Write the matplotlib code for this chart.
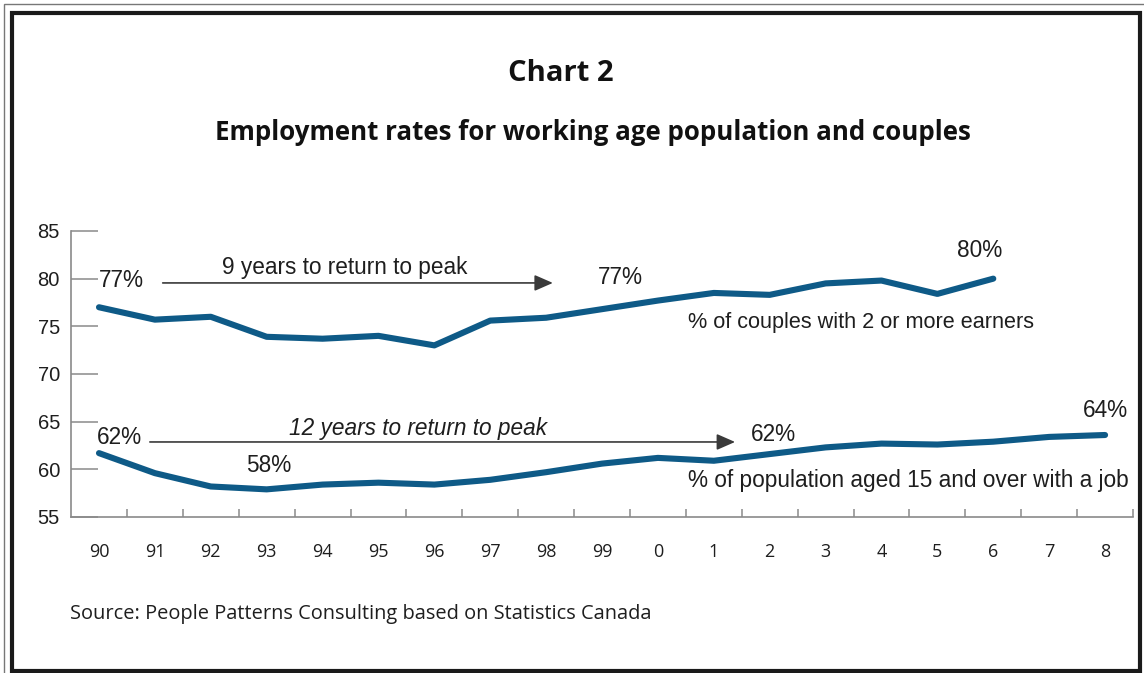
import numpy as np
import matplotlib
matplotlib.use("Agg")
import matplotlib.pyplot as plt
from matplotlib.patches import Rectangle

# --- data ---
years = ["90", "91", "92", "93", "94", "95", "96", "97", "98", "99",
         "0", "1", "2", "3", "4", "5", "6", "7", "8"]
couples_2earners = [77.0, 75.7, 76.0, 73.9, 73.7, 74.0, 73.0, 75.6, 75.9, 76.8,
                    77.7, 78.5, 78.3, 79.5, 79.8, 78.4, 80.0]
pop_employed = [61.7, 59.6, 58.2, 57.9, 58.4, 58.6, 58.4, 58.9, 59.7, 60.6,
                61.2, 60.9, 61.6, 62.3, 62.7, 62.6, 62.9, 63.4, 63.6]
y_ticks = [55, 60, 65, 70, 75, 80, 85]

LINE = "#0e5a87"
TXT = "#1e1e1e"
AXC = "#8a8a8a"
SANS = "Liberation Sans"
HUM = "Open Sans"

fig = plt.figure(figsize=(11.44, 6.73), dpi=100)
ax = fig.add_axes([0.0621, 0.2318, 0.9283, 0.425])

x = np.arange(len(years))
ax.plot(x[:len(couples_2earners)], couples_2earners, color=LINE, lw=4.4,
        solid_capstyle="round", solid_joinstyle="round")
ax.plot(x, pop_employed, color=LINE, lw=4.4,
        solid_capstyle="round", solid_joinstyle="round")

ax.set_xlim(-0.5, len(years) - 0.5)
ax.set_ylim(55, 85)

# axes styling: only left and bottom spines, ticks pointing inward
for s in ("top", "right"):
    ax.spines[s].set_visible(False)
for s in ("left", "bottom"):
    ax.spines[s].set_color(AXC)
    ax.spines[s].set_linewidth(1.2)

ax.set_yticks(y_ticks)
ax.set_yticklabels([str(v) for v in y_ticks], fontsize=14.5, family=SANS, color=TXT)
ax.tick_params(axis="y", direction="in", length=19.5, width=1.1, color=AXC, pad=8)

ax.set_xticks(x)
ax.set_xticklabels(years, fontsize=13, family=HUM, color=TXT)
ax.set_xticks(np.append(x[1:] - 0.5, len(years) - 0.5), minor=True)
ax.tick_params(axis="x", which="major", length=0, pad=19)
ax.tick_params(axis="x", which="minor", direction="in", length=6, width=1.1, color=AXC)

# value labels
kw = dict(fontsize=16.3, family=SANS, color=TXT)
ax.text(0.0, 79.8, f"{round(couples_2earners[0])}%", ha="left", va="center", **kw)
ax.text(9.33, 80.1, f"{round(couples_2earners[9])}%", ha="center", va="center", **kw)
ax.text(15.76, 83.0, f"{round(couples_2earners[16])}%", ha="center", va="center", **kw)
ax.text(0.36, 63.3, f"{round(pop_employed[0])}%", ha="center", va="center", **kw)
ax.text(3.04, 60.35, f"{round(pop_employed[3])}%", ha="center", va="center", **kw)
ax.text(12.06, 63.7, f"{round(pop_employed[12])}%", ha="center", va="center", **kw)
ax.text(18.0, 66.2, f"{round(pop_employed[18])}%", ha="center", va="center", **kw)

# series labels
ax.text(10.54, 75.35, "% of couples with 2 or more earners", ha="left", va="center",
        fontsize=15.6, family=SANS, color=TXT)
ax.text(10.54, 58.8, "% of population aged 15 and over with a job", ha="left",
        va="center", **kw)

# "return to peak" arrows
arrow = dict(arrowstyle="-|>,head_length=0.8,head_width=0.35", color="#3a3a3a",
             lw=1.2, shrinkA=0, shrinkB=0, mutation_scale=14)
ax.annotate("", xy=(8.12, 79.55), xytext=(1.14, 79.55), arrowprops=arrow)
ax.text(4.4, 81.2, "9 years to return to peak", ha="center", va="center", **kw)
ax.annotate("", xy=(11.38, 62.87), xytext=(0.91, 62.87), arrowprops=arrow)
ax.text(5.71, 64.3, "12 years to return to peak", ha="center", va="center",
        style="italic", **kw)

# titles and source
fig.text(0.49, 0.891, "Chart 2", ha="center", va="center", fontsize=21,
         fontweight="bold", family=HUM, color="#111111")
fig.text(0.518, 0.803, "Employment rates for working age population and couples",
         ha="center", va="center", fontsize=18.6, fontweight="bold", family=HUM,
         color="#111111")
fig.text(0.0612, 0.088, "Source: People Patterns Consulting based on Statistics Canada",
         ha="left", va="center", fontsize=14.4, family=HUM, color=TXT)

# double frame around the figure
fig.patches.append(Rectangle((4 / 1144, -10 / 673), 1150 / 1144, 679 / 673,
                             transform=fig.transFigure, fill=False,
                             edgecolor="#777777", lw=1.0))
fig.patches.append(Rectangle((11.5 / 1144, 2 / 673), 1128 / 1144, 658 / 673,
                             transform=fig.transFigure, fill=False,
                             edgecolor="#1a1a1a", lw=3.0))

fig.savefig("out.png", dpi=100)
